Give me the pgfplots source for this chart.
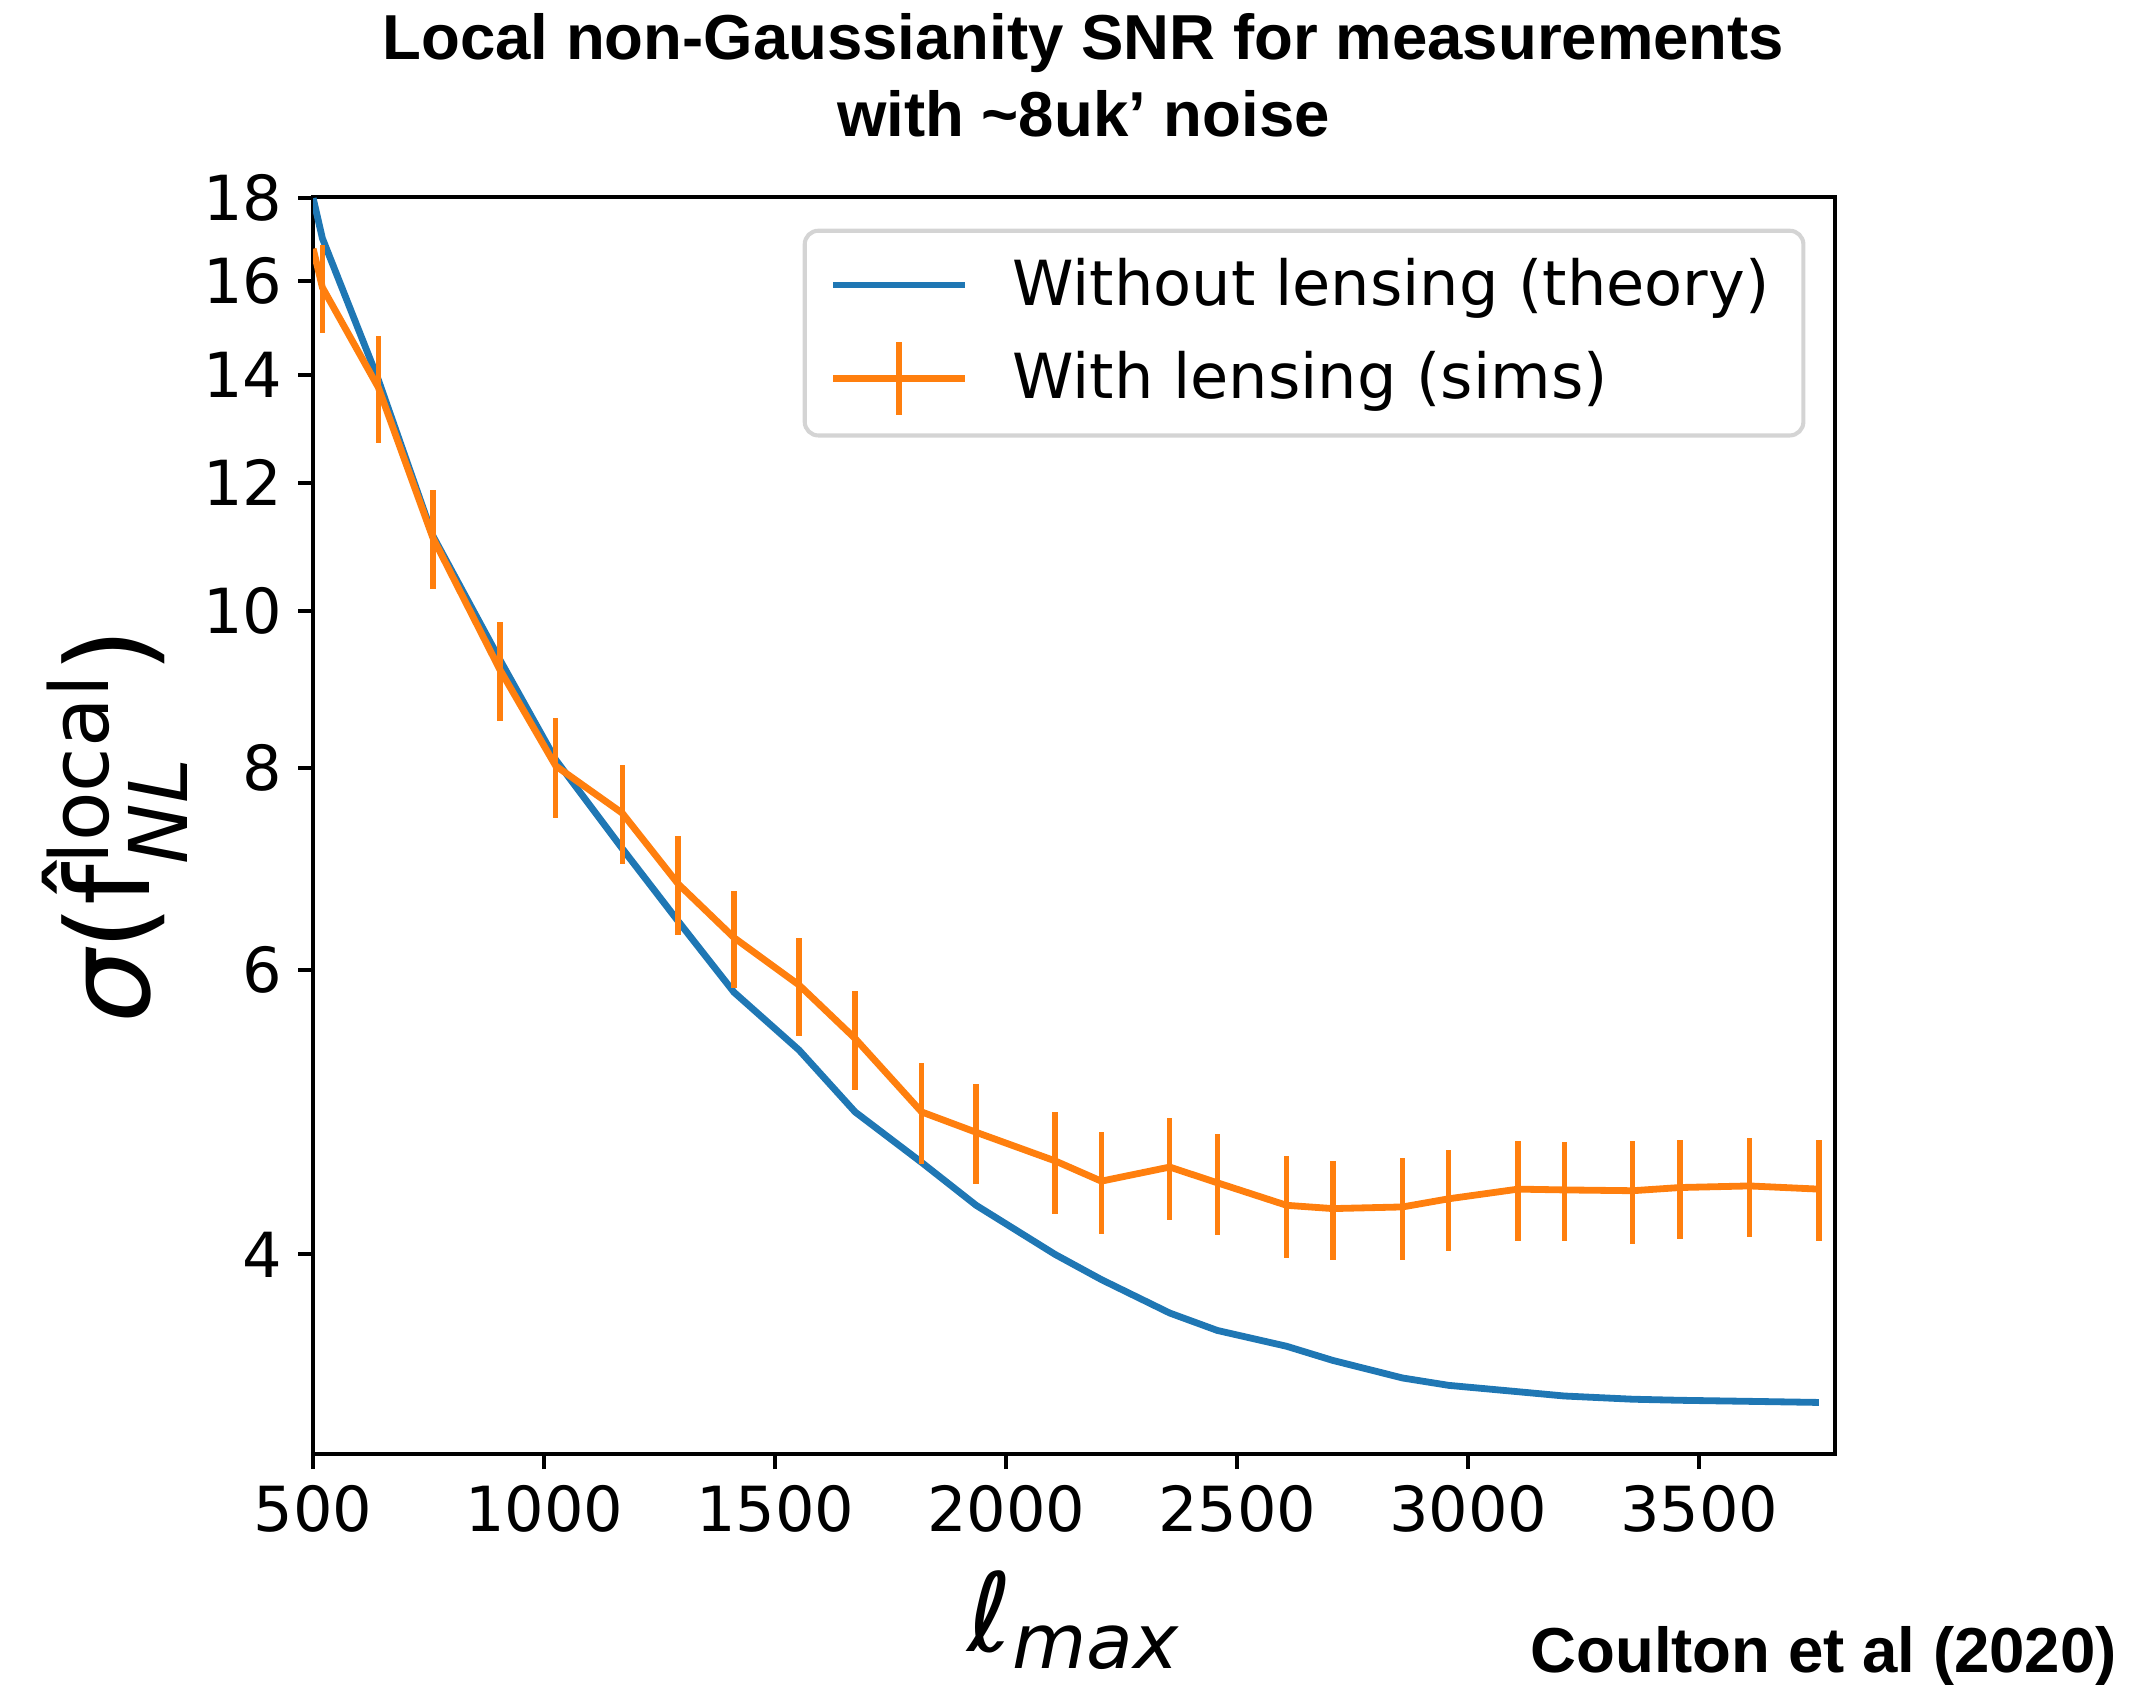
\documentclass[border=0pt]{standalone}
\usepackage{fontspec}
\setmainfont{DejaVu Sans}
\newfontfamily\lib{Liberation Sans}
\usepackage{amsmath}
\usepackage{pgfplots}
\pgfplotsset{compat=1.18}
\usepackage{pgfplotstable}
\definecolor{mblue}{HTML}{1F77B4}
\definecolor{morange}{HTML}{FF7F0E}
\pgfplotstableread{
x y
500 18.0
520 17.0
641 13.9
759 11.13
904 9.33
1025 8.09
1169 7.13
1290 6.43
1411 5.81
1552 5.35
1673 4.90
1817 4.56
1935 4.29
2106 4.00
2206 3.86
2354 3.68
2457 3.59
2607 3.51
2707 3.44
2858 3.355
2958 3.32
3108 3.29
3208 3.27
3356 3.255
3459 3.25
3609 3.245
3759 3.24
}\theory
\pgfplotstableread{
x y e
500 16.75 0
520 15.85 1.0
641 13.75 1.05
759 11.1 0.78
904 9.2 0.65
1025 8.02 0.57
1169 7.5 0.53
1290 6.78 0.48
1411 6.28 0.43
1552 5.87 0.41
1673 5.44 0.385
1817 4.90 0.35
1935 4.76 0.34
2106 4.57 0.33
2206 4.44 0.32
2354 4.53 0.33
2457 4.43 0.32
2607 4.29 0.31
2707 4.27 0.30
2858 4.28 0.31
2958 4.33 0.31
3108 4.39 0.31
3208 4.385 0.31
3356 4.38 0.32
3459 4.40 0.31
3609 4.41 0.31
3759 4.39 0.315
}\sims
\begin{document}
\begin{tikzpicture}
\begin{axis}[
  scale only axis, width=335.4pt, height=276.9pt,
  xmin=500, xmax=3795, ymode=log, ymin=3.01, ymax=18.02,
  xtick={500,1000,1500,2000,2500,3000,3500},
  ytick={4,6,8,10,12,14,16,18},
  yticklabels={4,6,8,10,12,14,16,18},
  minor ytick={},
  xtick pos=bottom, ytick pos=left,
  scaled x ticks=false,
  xticklabel style={/pgf/number format/1000 sep={}},
  tick align=outside, major tick length=3.3pt,
  tick style={black, line width=0.9pt},
  axis line style={line width=0.9pt},
  tick label style={font=\fontsize{13.7}{16}\selectfont},
  /pgf/number format/assume math mode=true,
  xlabel={\fontsize{24}{28}\selectfont ℓ$_{\text{\itshape max}}$},
  xlabel style={at={(axis description cs:0.5,0)}, anchor=base, yshift=-43.5pt},
  ylabel={\fontsize{25.5}{30}\selectfont{\itshape σ}(\^{f}$^{\text{local}}_{\text{\itshape NL}}$)},
  ylabel style={at={(axis description cs:-0.1073,0.5)}, anchor=base, rotate=0},
  legend style={at={(axis description cs:0.9803,0.9751)}, anchor=north east,
    draw=black!17, rounded corners=3pt, line width=0.9pt,
    font=\fontsize{13.7}{16}\selectfont, inner xsep=5.5pt, inner ysep=4pt,
    row sep=4pt},
  legend cell align=left,
]
\addplot[mblue, line width=1.5pt,
  legend image code/.code={\draw[mblue, line width=1.5pt] (0pt,0pt) -- (29pt,0pt); \path[draw=none] (0pt,0pt) -- (37.5pt,0pt);}]
  table[x=x, y=y] {\theory};
\addlegendentry{Without lensing (theory)}
\addplot[morange, line width=1.5pt,
  legend image code/.code={\draw[morange, line width=1.5pt] (0pt,0pt) -- (29pt,0pt);
     \draw[morange, line width=1.2pt] (14.5pt,-8pt) -- (14.5pt,8pt); \path[draw=none] (0pt,0pt) -- (37.5pt,0pt);},
  error bars/.cd, y dir=both, y explicit, error mark=none,
  error bar style={line width=1.2pt, morange}]
  table[x=x, y=y, y error=e] {\sims};
\addlegendentry{With lensing (sims)}
\end{axis}
\node[font=\lib\bfseries\fontsize{14}{17}\selectfont, anchor=base, xshift=2pt, yshift=30.3pt] at (current axis.north) {Local non-Gaussianity SNR for measurements};
\node[font=\lib\bfseries\fontsize{14}{17}\selectfont, anchor=base, xshift=2pt, yshift=13.5pt] at (current axis.north) {with \textasciitilde8uk’ noise};
\node[font=\lib\bfseries\fontsize{14}{17}\selectfont, anchor=base east, xshift=65.5pt, yshift=-48pt] at (current axis.south east) {Coulton et al (2020)};
\pgfresetboundingbox
\path ([xshift=-69pt,yshift=-50.7pt]current axis.south west) rectangle ([xshift=66pt,yshift=43.5pt]current axis.north east);
\end{tikzpicture}
\end{document}
